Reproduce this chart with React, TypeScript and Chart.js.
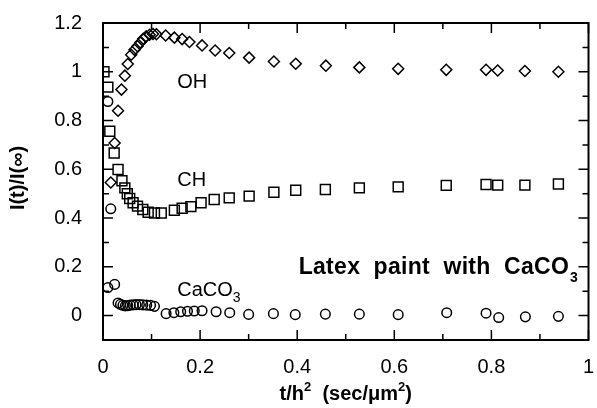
import React, { useEffect, useRef } from "react";
import { Chart, registerables } from "chart.js";

Chart.register(...registerables);

const ohX = [0.016, 0.024, 0.031, 0.038, 0.045, 0.051, 0.058, 0.065, 0.071, 0.077, 0.083, 0.089, 0.096, 0.103, 0.110, 0.129, 0.147, 0.163, 0.178, 0.204, 0.231, 0.260, 0.301, 0.352, 0.397, 0.459, 0.528, 0.608, 0.707, 0.789, 0.813, 0.869, 0.938];
const ohY = [0.546, 0.708, 0.840, 0.927, 0.984, 1.032, 1.070, 1.090, 1.105, 1.120, 1.135, 1.145, 1.152, 1.155, 1.154, 1.149, 1.140, 1.134, 1.122, 1.108, 1.087, 1.077, 1.058, 1.042, 1.033, 1.025, 1.018, 1.012, 1.008, 1.008, 1.005, 1.003, 1.000];

const chX = [0.002, 0.010, 0.014, 0.023, 0.031, 0.039, 0.045, 0.050, 0.055, 0.062, 0.071, 0.082, 0.093, 0.106, 0.120, 0.147, 0.163, 0.181, 0.202, 0.229, 0.260, 0.301, 0.352, 0.397, 0.458, 0.528, 0.608, 0.707, 0.789, 0.813, 0.869, 0.938];
const chY = [1.000, 0.937, 0.756, 0.667, 0.599, 0.553, 0.524, 0.500, 0.480, 0.463, 0.449, 0.435, 0.424, 0.421, 0.421, 0.432, 0.440, 0.447, 0.463, 0.476, 0.483, 0.490, 0.506, 0.514, 0.517, 0.524, 0.528, 0.534, 0.538, 0.535, 0.535, 0.540];

const caX = [0.010, 0.010, 0.016, 0.024, 0.031, 0.036, 0.041, 0.046, 0.051, 0.056, 0.062, 0.068, 0.075, 0.082, 0.090, 0.098, 0.106, 0.130, 0.146, 0.160, 0.174, 0.188, 0.204, 0.233, 0.261, 0.300, 0.351, 0.396, 0.458, 0.528, 0.608, 0.708, 0.789, 0.815, 0.870, 0.938];
const caY = [0.878, 0.115, 0.438, 0.128, 0.052, 0.046, 0.042, 0.040, 0.041, 0.043, 0.044, 0.045, 0.045, 0.044, 0.043, 0.042, 0.038, 0.008, 0.012, 0.016, 0.018, 0.019, 0.020, 0.016, 0.012, 0.005, 0.008, 0.004, 0.006, 0.006, 0.004, 0.012, 0.010, -0.008, -0.005, -0.003];

const xTickValues = [0, 0.2, 0.4, 0.6, 0.8, 1];
const yTickValues = [0, 0.2, 0.4, 0.6, 0.8, 1, 1.2];

const FONT = "'Liberation Sans', Arial, sans-serif";

const toPts = (xs: number[], ys: number[]) => xs.map((x, i) => ({ x, y: ys[i] }));

const zeroPad = (s: any) => {
  s.paddingLeft = 0;
  s.paddingRight = 0;
  s.paddingTop = 0;
  s.paddingBottom = 0;
};

const decorPlugin = {
  id: "decor",
  afterDraw(chart: any) {
    const ctx = chart.ctx;
    const { left, right, top, bottom } = chart.chartArea;
    const xs = chart.scales.x;
    const ys = chart.scales.y;
    ctx.save();
    ctx.strokeStyle = "#000";
    ctx.fillStyle = "#000";
    ctx.lineWidth = 2;
    ctx.strokeRect(left, top, right - left, bottom - top);
    ctx.lineWidth = 1.5;
    for (let i = 0; i <= 10; i++) {
      const px = xs.getPixelForValue(i / 10);
      const len = i % 2 === 0 ? 10 : 6;
      ctx.beginPath();
      ctx.moveTo(px, bottom);
      ctx.lineTo(px, bottom - len);
      ctx.moveTo(px, top);
      ctx.lineTo(px, top + len);
      ctx.stroke();
    }
    for (let i = -1; i <= 12; i++) {
      const py = ys.getPixelForValue(i / 10);
      const len = i % 2 === 0 ? 10 : 6;
      ctx.beginPath();
      ctx.moveTo(left, py);
      ctx.lineTo(left + len, py);
      ctx.moveTo(right, py);
      ctx.lineTo(right - len, py);
      ctx.stroke();
    }
    ctx.textBaseline = "alphabetic";
    ctx.textAlign = "left";
    ctx.font = `20px ${FONT}`;
    ctx.fillText("OH", xs.getPixelForValue(0.153), ys.getPixelForValue(0.935));
    ctx.fillText("CH", xs.getPixelForValue(0.153), ys.getPixelForValue(0.533));
    const cx = xs.getPixelForValue(0.153);
    const cy = ys.getPixelForValue(0.079);
    ctx.fillText("CaCO", cx, cy);
    const w1 = ctx.measureText("CaCO").width;
    ctx.font = `14px ${FONT}`;
    ctx.fillText("3", cx + w1, cy + 6);
    ctx.font = `bold 23px ${FONT}`;
    (ctx as any).letterSpacing = "0.3px";
    const lx = xs.getPixelForValue(0.403);
    const ly = ys.getPixelForValue(0.170);
    const lt = "Latex  paint  with  CaCO";
    ctx.fillText(lt, lx, ly);
    const lw = ctx.measureText(lt).width;
    (ctx as any).letterSpacing = "0px";
    ctx.font = `bold 14px ${FONT}`;
    ctx.fillText("3", lx + lw + 1, ly + 8);
    const parts: [string, boolean][] = [["t/h", false], ["2", true], ["  (sec/\u03bcm", false], ["2", true], [")", false]];
    let total = 0;
    const widths = parts.map(([t, sup]) => {
      ctx.font = sup ? `bold 13px ${FONT}` : `bold 20px ${FONT}`;
      const w = ctx.measureText(t).width;
      total += w;
      return w;
    });
    let tx = (left + right) / 2 - total / 2;
    const ty = 400;
    parts.forEach(([t, sup], i) => {
      ctx.font = sup ? `bold 13px ${FONT}` : `bold 20px ${FONT}`;
      ctx.fillText(t, tx, sup ? ty - 9 : ty);
      tx += widths[i];
    });
    ctx.save();
    ctx.translate(24, 178);
    ctx.rotate(-Math.PI / 2);
    ctx.textAlign = "center";
    ctx.font = `bold 20px ${FONT}`;
    ctx.fillText("I(t)/I(\u221e)", 0, 0);
    ctx.restore();
    ctx.restore();
  },
};

export default function App() {
  const ref = useRef<HTMLCanvasElement | null>(null);
  useEffect(() => {
    if (!ref.current) return;
    const common = {
      showLine: false,
      borderColor: "#000",
      backgroundColor: "rgba(0,0,0,0)",
      pointBorderWidth: 1.5,
    };
    const chart = new Chart(ref.current, {
      type: "scatter",
      data: {
        datasets: [
          { ...common, label: "OH", data: toPts(ohX, ohY), pointStyle: "rectRot", pointRadius: 5.5 },
          { ...common, label: "CH", data: toPts(chX, chY), pointStyle: "rect", pointRadius: 7 },
          { ...common, label: "CaCO3", data: toPts(caX, caY), pointStyle: "circle", pointRadius: 4.8 },
        ],
      },
      options: {
        animation: false,
        responsive: false,
        events: [],
        layout: { padding: { top: 23, right: 6, left: 0, bottom: 0 } },
        plugins: { legend: { display: false }, tooltip: { enabled: false } },
        scales: {
          x: {
            type: "linear",
            min: 0,
            max: 1,
            grid: { display: false },
            border: { display: false },
            afterBuildTicks: (s: any) => {
              s.ticks = xTickValues.map((v) => ({ value: v }));
            },
            afterFit: (s: any) => {
              s.height = 68;
              zeroPad(s);
            },
            ticks: {
              color: "#000",
              padding: 7,
              maxRotation: 0,
              font: { family: FONT, size: 20 },
              callback: (v: any) => String(Math.round(Number(v) * 10) / 10),
            },
          },
          y: {
            type: "linear",
            min: -0.1,
            max: 1.2,
            grid: { display: false },
            border: { display: false },
            afterBuildTicks: (s: any) => {
              s.ticks = yTickValues.map((v) => ({ value: v }));
            },
            afterFit: (s: any) => {
              s.width = 103;
              zeroPad(s);
            },
            ticks: {
              color: "#000",
              padding: 13,
              font: { family: FONT, size: 20 },
              callback: (v: any) => String(Math.round(Number(v) * 10) / 10),
            },
          },
        },
      },
      plugins: [decorPlugin],
    });
    return () => chart.destroy();
  }, []);
  return (
    <div style={{ position: "fixed", left: 0, top: 0, width: 597, height: 408, background: "#fff" }}>
      <canvas ref={ref} width={597} height={408} style={{ display: "block" }} />
    </div>
  );
}
